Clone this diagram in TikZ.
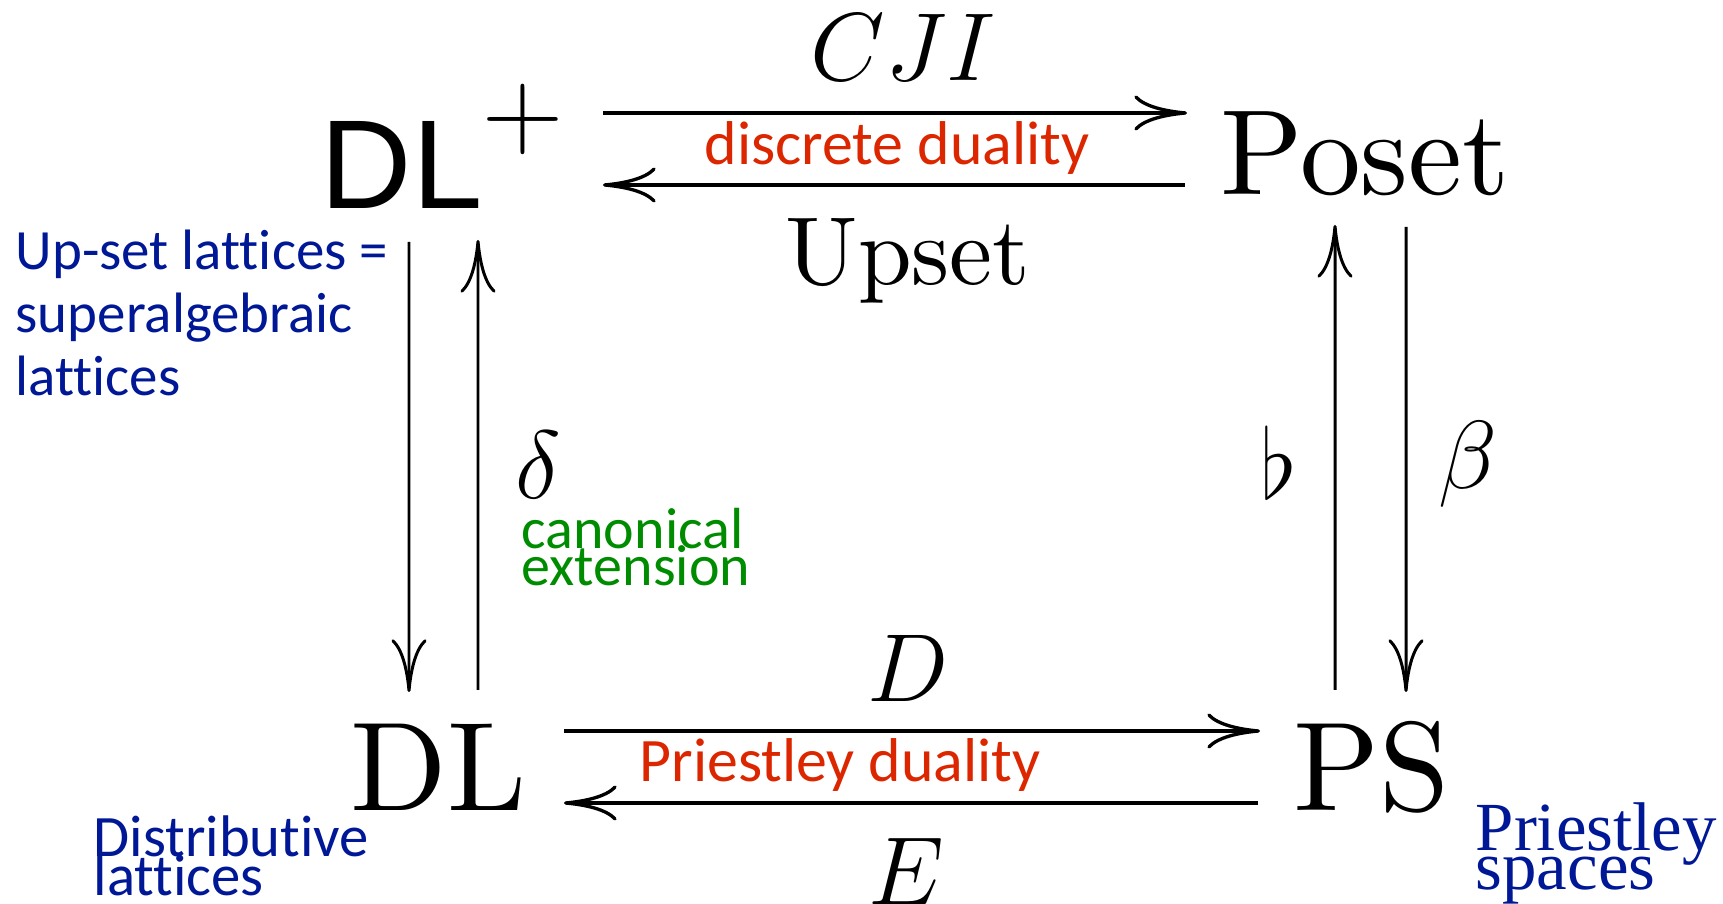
\RequirePackage{fix-cm}
\documentclass[tikz,border=0pt]{standalone}
\usepackage{fontspec}
\setmainfont{lmroman10-regular.otf}
\setsansfont{Carlito}[Ligatures=NoCommon]
\newfontfamily\helvfont{Liberation Sans}
\newfontfamily\timesfont{Liberation Serif}
\usetikzlibrary{arrows.meta}
\definecolor{dualred}{RGB}{220,38,0}
\definecolor{extgreen}{RGB}{0,140,0}
\definecolor{catblue}{RGB}{0,24,150}

\begin{document}
\begin{tikzpicture}[>={Computer Modern Rightarrow[length=15pt,width=10pt]},
    obj/.style={inner sep=0pt,anchor=base west,font=\fontsize{36}{40}\selectfont},
    lbl/.style={inner sep=0pt,font=\fontsize{27.5}{30}\selectfont},
    greek/.style={inner sep=0pt,font=\fontsize{27.5}{30}\selectfont},
    duality/.style={inner sep=0pt,anchor=base,text=dualred,font=\sffamily\fontsize{17.6}{20}\selectfont},
    note/.style={inner sep=0pt,anchor=north west,align=left,text=catblue},
    harrow/.style={->,line width=0.95pt},
    varrow/.style={->,line width=0.85pt}]
  \useasboundingbox (0,0) rectangle (17.23,9.04);
  % the four categories
  \node[obj] (dlp) at (3.20,6.95) {{\helvfont DL}\raisebox{0.61cm}{\fontsize{32}{32}\selectfont$+$}};
  \node[obj,font=\fontsize{34.5}{38}\selectfont] (poset) at (12.20,7.09) {Poset};
  \node[obj] (dl) at (3.50,0.93) {DL};
  \node[obj] (ps) at (12.93,0.93) {PS};
  % horizontal dualities
  \path[harrow] ([shift={(2.83,0.96)}]dlp.base west) edge node[lbl,above=3.1mm,pos=0.514] {$CJI$} ([shift={(-0.33,0.82)}]poset.base west)
                ([shift={(-0.35,0.10)}]poset.base west) edge node[lbl,below=3.2mm,pos=0.476] {Upset} ([shift={(2.83,0.24)}]dlp.base west)
                ([shift={(2.14,0.80)}]dl.base west) edge node[lbl,above=2.8mm,pos=0.494] {$D$} ([shift={(-0.33,0.80)}]ps.base west)
                ([shift={(-0.35,0.08)}]ps.base west) edge node[lbl,below=3.4mm,pos=0.506] {$E$} ([shift={(2.14,0.08)}]dl.base west);
  \node[duality] (dd) at (8.97,7.39) {discrete duality};
  \node[duality] (pd) at (8.40,1.22) {Priestley duality};
  % vertical maps
  \path[varrow] ([shift={(0.89,-0.33)}]dlp.base west) edge ([shift={(0.59,1.19)}]dl.base west)
                ([shift={(1.28,1.21)}]dl.base west) edge node[greek,right=3.6mm,pos=0.5] {$\delta$} ([shift={(1.58,-0.31)}]dlp.base west)
                ([shift={(0.42,1.21)}]ps.base west) edge node[greek,left=3.6mm,pos=0.49] {$\flat$} ([shift={(1.15,-0.30)}]poset.base west)
                ([shift={(1.86,-0.32)}]poset.base west) edge node[greek,right=3.1mm,pos=0.51] {$\beta$} ([shift={(1.13,1.19)}]ps.base west);
  % notes
  \node[note,font={\sffamily\fontsize{16.2}{17.9}\selectfont}] (upnote) at (0.15,6.75) {Up-set lattices =\\superalgebraic\\lattices};
  \node[note,text=extgreen,font={\sffamily\fontsize{16.5}{10.5}\selectfont\lineskiplimit=-100pt}] (canon) at (5.21,3.96) {canonical\\extension};
  \node[note,font={\sffamily\fontsize{16.7}{11}\selectfont\lineskiplimit=-100pt}] (dlnote) at (0.93,0.89) {Distributive\\lattices};
  \node[note,font={\timesfont\fontsize{19.6}{11}\selectfont\lineskiplimit=-100pt}] (psnote) at (14.75,1.02) {Priestley\\spaces};
\end{tikzpicture}
\end{document}
